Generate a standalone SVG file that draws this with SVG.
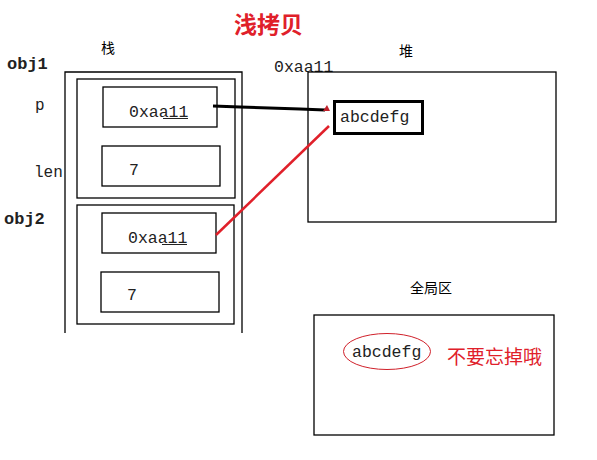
<svg xmlns="http://www.w3.org/2000/svg" width="597" height="460" viewBox="0 0 597 460">
<style>
.box{fill:none;stroke:#000;stroke-width:1.3}
.mono{font-family:"Liberation Mono","DejaVu Sans Mono",monospace;fill:#222}
.cjk{font-family:"Noto Sans CJK SC",sans-serif}
.red{fill:#e0202a}
</style>
<rect width="597" height="460" fill="#fff"/>
<text class="cjk red" x="234" y="33" font-size="23" font-weight="bold">浅拷贝</text>
<text class="cjk" x="101" y="53" font-size="14" fill="#000">栈</text>
<text class="cjk" x="399" y="56" font-size="14" fill="#000">堆</text>
<g id="stack">
<path class="box" d="M65,333 V72 H242 V333"/>
</g>
<g id="obj1">
<text class="mono" x="7" y="69" font-size="17" font-weight="bold" fill="#111">obj1</text>
<rect class="box" x="77" y="79" width="158" height="119"/>
<text class="mono" x="35" y="110" font-size="16">p</text>
<text class="mono" x="34" y="177" font-size="16">len</text>
<rect class="box" x="103" y="87" width="114" height="40"/>
<text class="mono" x="129" y="117" font-size="16.5">0xaa11</text>
<line x1="163" y1="118.5" x2="188" y2="118.5" stroke="#222" stroke-width="1"/>
<rect class="box" x="102" y="146" width="118" height="40"/>
<text class="mono" x="129" y="175" font-size="16.5">7</text>
</g>
<g id="obj2">
<text class="mono" x="4" y="224" font-size="17" font-weight="bold" fill="#111">obj2</text>
<rect class="box" x="77" y="205" width="157" height="119"/>
<rect class="box" x="102" y="213" width="114" height="40"/>
<text class="mono" x="128" y="243" font-size="16.5">0xaa11</text>
<line x1="162" y1="244.5" x2="187" y2="244.5" stroke="#222" stroke-width="1"/>
<rect class="box" x="101" y="272" width="118" height="40"/>
<text class="mono" x="127" y="300" font-size="16.5">7</text>
</g>
<g id="heap">
<text class="mono" x="274" y="72" font-size="16.5">0xaa11</text>
<rect class="box" x="308" y="72" width="248" height="150"/>
</g>
<g id="heap-value">
<rect x="334.5" y="101.5" width="88" height="32" fill="none" stroke="#000" stroke-width="3"/>
<text class="mono" x="340" y="122" font-size="16.5">abcdefg</text>
</g>
<g id="global">
<text class="cjk" x="410" y="293" font-size="14" fill="#000">全局区</text>
<rect class="box" x="314" y="315" width="240" height="120"/>
<ellipse cx="387" cy="351.5" rx="43.5" ry="18" fill="none" stroke="#d0202a" stroke-width="1"/>
<text class="mono" x="352" y="357" font-size="16.5">abcdefg</text>
<text class="cjk red" x="447" y="364" font-size="19">不要忘掉哦</text>
</g>
<g id="connectors">
<path d="M213,106 L240,107 L300,109 L325,110" fill="none" stroke="#000" stroke-width="3"/>
<path d="M323,111 L327,105 L330,111 Z" fill="#c0202a"/>
<line x1="216" y1="235" x2="329" y2="126" stroke="#e0202a" stroke-width="2.5"/>
</g>
</svg>
